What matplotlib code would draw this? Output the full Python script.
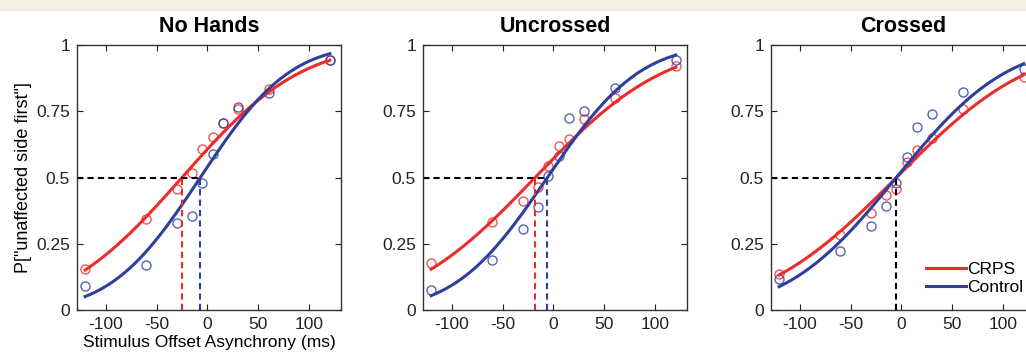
import math
import numpy as np
import matplotlib
matplotlib.use('Agg')
import matplotlib.pyplot as plt
from matplotlib.patches import Rectangle

plt.rcParams['font.family'] = ['Liberation Sans', 'DejaVu Sans']
plt.rcParams['axes.unicode_minus'] = False

titles = ['No Hands', 'Uncrossed', 'Crossed']
soa = [-120, -60, -30, -15, -5, 5, 15, 30, 60, 120]

crps_obs = [
    [0.155, 0.343, 0.456, 0.516, 0.607, 0.654, 0.705, 0.76, 0.835, 0.945],
    [0.177, 0.333, 0.41, 0.465, 0.545, 0.62, 0.645, 0.72, 0.80, 0.92],
    [0.135, 0.283, 0.365, 0.434, 0.455, 0.557, 0.603, 0.648, 0.758, 0.878],
]
ctrl_obs = [
    [0.09, 0.17, 0.33, 0.355, 0.48, 0.588, 0.705, 0.767, 0.82, 0.943],
    [0.075, 0.19, 0.305, 0.39, 0.505, 0.58, 0.725, 0.75, 0.838, 0.945],
    [0.116, 0.224, 0.317, 0.392, 0.48, 0.578, 0.69, 0.738, 0.823, 0.908],
]

# fitted cumulative gaussian parameters: PSS (ms) and sigma (ms)
crps_pss = [-25, -18, -5]
crps_sigma = [92, 100, 103]
ctrl_pss = [-7, -6, -5]
ctrl_sigma = [69, 71, 85]

xticks = [-100, -50, 0, 50, 100]
yticks = [0, 0.25, 0.5, 0.75, 1]
ytick_labels = ['0', '0.25', '0.5', '0.75', '1']

red = '#ee2b2b'
blue = '#2f3f9c'


def cum_gauss(x, mu, sigma):
    z = (x - mu) / (sigma * math.sqrt(2))
    return 0.5 * (1 + np.vectorize(math.erf)(z))


fig = plt.figure(figsize=(10.26, 3.58), dpi=100)
W, H = 1026, 358
fig.patches.append(Rectangle((0, 1 - 10 / H), 1, 10 / H, transform=fig.transFigure,
                             color='#f3efe1', zorder=0))

lefts = [77, 423, 771]
xs = np.linspace(-120, 120, 200)

for i in range(3):
    ax = fig.add_axes([lefts[i] / W, 1 - 310 / H, 264 / W, 265 / H])

    ax.plot(soa, crps_obs[i], 'o', mfc='none', mec=red, ms=6.5, mew=1.0, alpha=0.8)
    ax.plot(soa, ctrl_obs[i], 'o', mfc='none', mec=blue, ms=6.5, mew=1.0, alpha=0.8)
    ax.plot(xs, cum_gauss(xs, crps_pss[i], crps_sigma[i]), color=red, lw=2.2, label='CRPS')
    ax.plot(xs, cum_gauss(xs, ctrl_pss[i], ctrl_sigma[i]), color=blue, lw=2.2, label='Control')

    # PSS markers
    right_pss = max(crps_pss[i], ctrl_pss[i])
    ax.plot([-128, right_pss], [0.5, 0.5], color='black', ls=(0, (3, 2)), lw=1.5)
    if crps_pss[i] == ctrl_pss[i]:
        ax.plot([crps_pss[i]] * 2, [0, 0.5], color='black', ls=(0, (3, 2)), lw=1.5)
    else:
        ax.plot([crps_pss[i]] * 2, [0, 0.5], color=red, ls=(0, (3, 2)), lw=1.5)
        ax.plot([ctrl_pss[i]] * 2, [0, 0.5], color=blue, ls=(0, (3, 2)), lw=1.5)

    ax.set_xlim(-128, 131)
    ax.set_ylim(0, 1)
    ax.set_xticks(xticks)
    ax.set_xticklabels([str(t) for t in xticks])
    ax.set_yticks(yticks)
    ax.set_yticklabels(ytick_labels)
    ax.tick_params(direction='in', top=True, right=True, length=4, width=0.8,
                   labelsize=12.5, colors='#222222', pad=5)
    for s in ax.spines.values():
        s.set_color('#333333')
        s.set_linewidth(1.0)
    ax.set_title(titles[i], fontsize=15.5, fontweight='bold', pad=9)

    if i == 0:
        ax.set_ylabel('P["unaffected side first"]', fontsize=13, labelpad=3)
        ax.set_xlabel('Stimulus Offset Asynchrony (ms)', fontsize=12.5, labelpad=2)
    if i == 2:
        ax.legend(loc='lower left', bbox_to_anchor=(0.56, 0.03), frameon=False,
                  fontsize=12.5, handlelength=2.3, handletextpad=0.1,
                  labelspacing=0.15, borderaxespad=0)

fig.savefig('out.png', dpi=100)
